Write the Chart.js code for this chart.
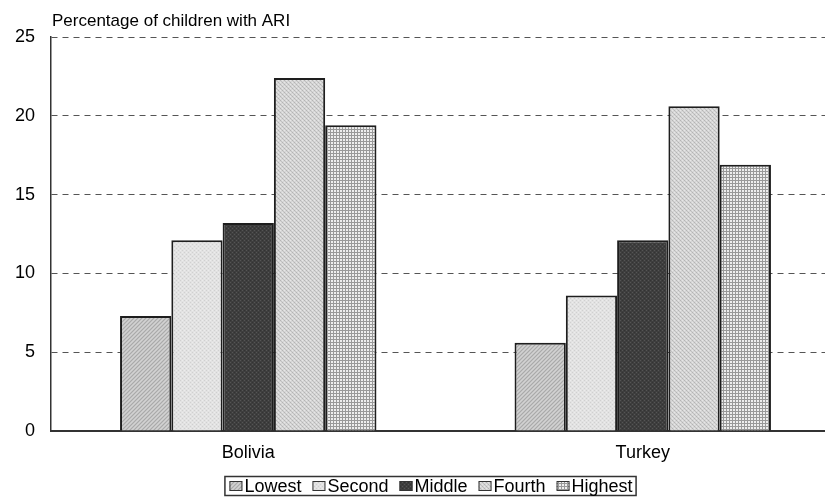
<!DOCTYPE html>
<html>
<head>
<meta charset="utf-8">
<script src="https://cdn.jsdelivr.net/npm/chart.js@4.4.0/dist/chart.umd.min.js"></script>
<style>
  html, body { margin: 0; padding: 0; background: #fff; overflow: hidden; }
  #wrap { width: 840px; height: 498px; }
</style>
</head>
<body>
<div id="wrap"><canvas id="chart" width="840" height="498"></canvas></div>
<script>
var countries = ['Bolivia', 'Turkey'];
var quintiles = ['Lowest', 'Second', 'Middle', 'Fourth', 'Highest'];
var lowest = [7.3, 5.6];
var second = [12.1, 8.6];
var middle = [13.2, 12.1];
var fourth = [22.4, 20.6];
var highest = [19.4, 16.9];
var yTicks = [0, 5, 10, 15, 20, 25];

var FONT = '"Liberation Sans", Arial, sans-serif';

// small texture tiles to mimic the grey fill patterns
function makePattern(kind) {
    var c = document.createElement('canvas');
    var size = kind === 'highest' ? 3 : 4;
    c.width = size; c.height = size;
    var g = c.getContext('2d');
    var px = function(x, y, col) { g.fillStyle = col; g.fillRect(x, y, 1, 1); };
    if (kind === 'lowest') {
        g.fillStyle = '#c4c4c4'; g.fillRect(0, 0, 4, 4);
        for (var i = 0; i < 4; i++) { px(i, 3 - i, '#aaaaaa'); px((i + 2) % 4, 3 - i, '#d2d2d2'); }
    } else if (kind === 'second') {
        g.fillStyle = '#e2e2e2'; g.fillRect(0, 0, 4, 4);
        px(0, 0, '#d0d0d0'); px(2, 2, '#d0d0d0'); px(2, 0, '#ececec'); px(0, 2, '#ececec');
    } else if (kind === 'middle') {
        g.fillStyle = '#3e3e3e'; g.fillRect(0, 0, 4, 4);
        px(0, 0, '#555'); px(2, 2, '#555'); px(2, 0, '#333'); px(0, 2, '#333');
    } else if (kind === 'fourth') {
        g.fillStyle = '#d6d6d6'; g.fillRect(0, 0, 4, 4);
        px(0, 0, '#b4b4b4'); px(1, 1, '#c2c2c2'); px(2, 2, '#b4b4b4'); px(3, 3, '#c2c2c2');
        px(2, 0, '#e6e6e6'); px(0, 2, '#e6e6e6');
    } else {
        g.fillStyle = '#eeeeee'; g.fillRect(0, 0, 3, 3);
        g.fillStyle = '#999999'; g.fillRect(0, 0, 3, 1); g.fillRect(0, 0, 1, 3);
    }
    return document.getElementById('chart').getContext('2d').createPattern(c, 'repeat');
}

var seriesValues = [lowest, second, middle, fourth, highest];
var patternKinds = ['lowest', 'second', 'middle', 'fourth', 'highest'];

var datasets = quintiles.map(function(name, i) {
    return {
        label: name,
        data: seriesValues[i],
        backgroundColor: makePattern(patternKinds[i]),
        borderColor: '#1e1e1e',
        borderWidth: 2,
        borderSkipped: 'bottom'
    };
});

var titlePlugin = {
    id: 'topTitle',
    afterDraw: function(chart) {
        var ctx = chart.ctx;
        ctx.save();
        ctx.font = '17px ' + FONT;
        ctx.fillStyle = '#000';
        ctx.textBaseline = 'alphabetic';
        ctx.fillText('Percentage of children with ARI', chart.chartArea.left + 1, chart.chartArea.top - 11);
        ctx.restore();
    }
};

// boxed legend drawn under the axis labels
var legendPlugin = {
    id: 'boxLegend',
    afterDraw: function(chart) {
        var ctx = chart.ctx;
        var boxW = 13, boxH = 10, textGap = 2, itemGap = 11, pad = 4;
        ctx.save();
        ctx.font = '18px ' + FONT;
        var widths = chart.data.datasets.map(function(ds) {
            return boxW + textGap + ctx.measureText(ds.label).width;
        });
        var total = widths.reduce(function(a, b) { return a + b; }, 0) + itemGap * (widths.length - 1);
        var cx = 431, cy = 486;
        var x = cx - total / 2;
        ctx.strokeStyle = '#333';
        ctx.lineWidth = 1.5;
        ctx.strokeRect(x - pad - 0.5, cy - 9.5, total + pad * 2, 19);
        ctx.textBaseline = 'middle';
        chart.data.datasets.forEach(function(ds, i) {
            ctx.fillStyle = ds.backgroundColor;
            ctx.fillRect(x, cy - boxH / 2, boxW, boxH);
            ctx.strokeStyle = '#333';
            ctx.lineWidth = 1;
            ctx.strokeRect(x + 0.5, cy - boxH / 2 + 0.5, boxW - 1, boxH - 1);
            ctx.fillStyle = '#000';
            ctx.fillText(ds.label, x + boxW + textGap, cy + 1);
            x += widths[i] + itemGap;
        });
        ctx.restore();
    }
};

new Chart(document.getElementById('chart'), {
    type: 'bar',
    data: { labels: countries, datasets: datasets },
    options: {
        responsive: false,
        animation: false,
        layout: { padding: { left: 0, right: 0, top: 37, bottom: 0 } },
        datasets: { bar: { categoryPercentage: 0.65, barPercentage: 1.0 } },
        plugins: {
            title: { display: false },
            tooltip: { enabled: false },
            legend: { display: false }
        },
        scales: {
            x: {
                afterFit: function(scale) { scale.height = 67; },
                grid: { display: false, drawTicks: false },
                border: { display: true, color: '#333', width: 2 },
                ticks: {
                    color: '#000',
                    padding: 11,
                    font: { family: FONT, size: 18 }
                }
            },
            y: {
                min: 0,
                max: 25,
                afterFit: function(scale) { scale.width = 51; },
                afterBuildTicks: function(scale) {
                    scale.ticks = yTicks.map(function(v) { return { value: v }; });
                },
                grid: {
                    color: function(c) { return c.tick.value === 0 ? 'rgba(0,0,0,0)' : '#555'; },
                    lineWidth: 1,
                    drawTicks: false
                },
                border: { display: true, color: '#333', width: 1.5, dash: [6, 5] },
                ticks: {
                    color: '#000',
                    padding: 16,
                    font: { family: FONT, size: 18 }
                }
            }
        }
    },
    plugins: [titlePlugin, legendPlugin]
});
</script>
</body>
</html>
